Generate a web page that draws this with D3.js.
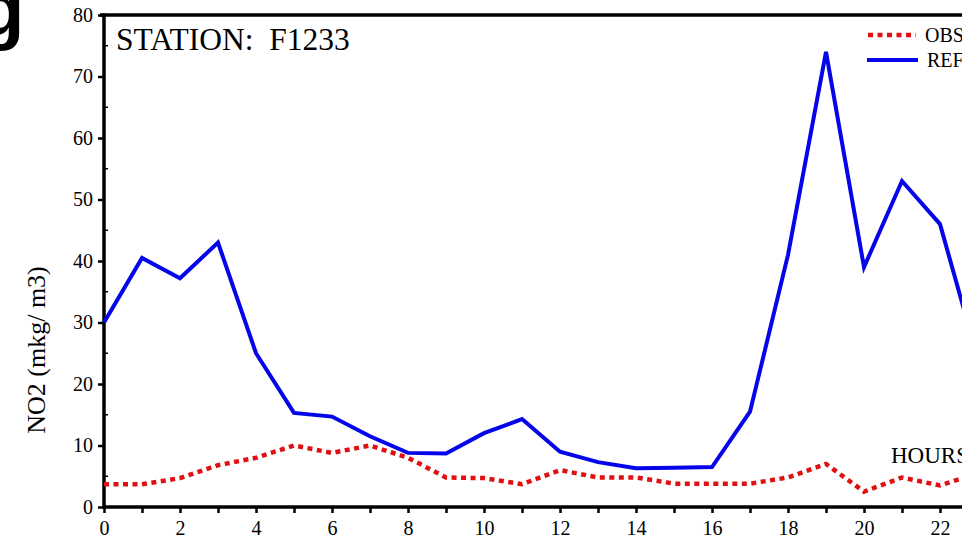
<!DOCTYPE html>
<html>
<head>
<meta charset="utf-8">
<script src="https://cdn.jsdelivr.net/npm/d3@7"></script>
<style>
  html, body { margin: 0; padding: 0; background: #fff; overflow: hidden; }
  svg { display: block; font-family: "Liberation Serif", "Times New Roman", serif; }
  .axis text { font-family: "Liberation Serif", "Times New Roman", serif; font-size: 20px; fill: #000; }
</style>
</head>
<body>
<svg id="chart" width="962" height="539"></svg>
<script>
// Hourly NO2 at station F1233
const hours = d3.range(0, 24);
const obsValues = [3.7, 3.7, 4.7, 6.8, 8.0, 10.0, 8.8, 10.0, 8.0, 4.8, 4.7, 3.7,
                   6.0, 4.8, 4.8, 3.8, 3.8, 3.8, 4.8, 7.0, 2.5, 4.8, 3.5, 5.5];
const refValues = [30.0, 40.5, 37.2, 43.0, 25.0, 15.3, 14.7, 11.5, 8.8, 8.7, 12.0, 14.3,
                   9.0, 7.3, 6.3, 6.4, 6.5, 15.5, 41.0, 74.0, 39.0, 53.0, 46.0, 24.0];
const yTicks = [0, 10, 20, 30, 40, 50, 60, 70, 80];
const xTickLabels = [0, 2, 4, 6, 8, 10, 12, 14, 16, 18, 20, 22];
const seriesNames = ["OBS", "REF"];

const svg = d3.select("#chart");
const plotLeft = 104, plotTop = 15, plotBottom = 507;
const serif = '"Liberation Serif", "Times New Roman", serif';

const x = d3.scaleLinear().domain([0, 24]).range([plotLeft, plotLeft + 24 * 38]);
const y = d3.scaleLinear().domain([0, 80]).range([plotBottom, plotTop]);

// Panel letter
svg.append("text")
  .attr("x", -22).attr("y", 35)
  .style("font-family", '"Liberation Sans", Arial, sans-serif')
  .style("font-weight", "bold")
  .style("font-size", "76px")
  .text("g");

// Y axis
const yAxis = svg.append("g")
  .attr("class", "axis")
  .attr("transform", `translate(${plotLeft},0)`)
  .call(d3.axisLeft(y).tickValues(yTicks).tickSize(6).tickPadding(5));
yAxis.attr("font-family", serif).attr("font-size", 20);
yAxis.select(".domain").remove();
yAxis.selectAll(".tick line").attr("stroke-width", 2.5);

// minor y ticks at the half-decades
svg.append("g").selectAll("line")
  .data(d3.range(5, 80, 10))
  .join("line")
  .attr("x1", plotLeft).attr("x2", plotLeft + 4)
  .attr("y1", d => y(d)).attr("y2", d => y(d))
  .attr("stroke", "#000").attr("stroke-width", 1.5);

// X axis
const xAxis = svg.append("g")
  .attr("class", "axis")
  .attr("transform", `translate(0,${plotBottom})`)
  .call(d3.axisBottom(x).tickValues(d3.range(0, 25)).tickSize(6).tickPadding(8)
        .tickFormat(d => xTickLabels.includes(d) ? d : ""));
xAxis.attr("font-family", serif).attr("font-size", 20);
xAxis.select(".domain").remove();
xAxis.selectAll(".tick line").attr("stroke-width", 2.5);

// Frame: left, bottom and top edges
svg.append("line").attr("x1", plotLeft).attr("x2", plotLeft).attr("y1", plotTop - 1.5).attr("y2", plotBottom + 1.5)
  .attr("stroke", "#000").attr("stroke-width", 3.5);
svg.append("line").attr("x1", plotLeft).attr("x2", 962).attr("y1", plotBottom).attr("y2", plotBottom)
  .attr("stroke", "#000").attr("stroke-width", 3.5);
svg.append("line").attr("x1", plotLeft - 4).attr("x2", 962).attr("y1", plotTop).attr("y2", plotTop)
  .attr("stroke", "#000").attr("stroke-width", 3.5);

// Series lines
const line = d3.line().x((d, i) => x(hours[i])).y(d => y(d));

svg.append("path")
  .datum(refValues)
  .attr("d", line)
  .attr("fill", "none")
  .attr("stroke", "#0505ea")
  .attr("stroke-width", 4)
  .attr("stroke-linejoin", "miter");

svg.append("path")
  .datum(obsValues)
  .attr("d", line)
  .attr("fill", "none")
  .attr("stroke", "#e01010")
  .attr("stroke-width", 4.5)
  .attr("stroke-dasharray", "5,4.5");

// Title inside the plot
svg.append("text")
  .attr("x", 116).attr("y", 50)
  .style("font-family", serif)
  .style("font-size", "31.5px")
  .style("white-space", "pre")
  .text("STATION:  F1233");

// Axis titles
svg.append("text")
  .attr("transform", "translate(45,350) rotate(-90)")
  .attr("text-anchor", "middle")
  .style("font-family", serif)
  .style("font-size", "26px")
  .text("NO2 (mkg/ m3)");

svg.append("text")
  .attr("x", 891).attr("y", 463)
  .style("font-family", serif)
  .style("font-size", "23px")
  .text("HOURS");

// Legend
const legend = svg.append("g");
legend.append("line")
  .attr("x1", 868).attr("x2", 916).attr("y1", 35).attr("y2", 35)
  .attr("stroke", "#e01010").attr("stroke-width", 4.5).attr("stroke-dasharray", "5,4.5");
legend.append("text").attr("x", 925).attr("y", 42)
  .style("font-family", serif).style("font-size", "20px").text(seriesNames[0]);
legend.append("line")
  .attr("x1", 867).attr("x2", 918).attr("y1", 60).attr("y2", 60)
  .attr("stroke", "#0505ea").attr("stroke-width", 4);
legend.append("text").attr("x", 927).attr("y", 67)
  .style("font-family", serif).style("font-size", "20px").text(seriesNames[1]);
</script>
</body>
</html>
